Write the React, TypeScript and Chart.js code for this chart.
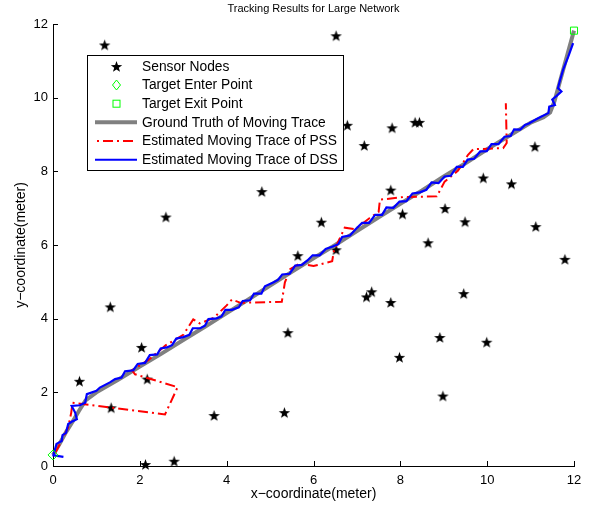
import React, { useEffect, useRef } from "react";
import { Chart, registerables } from "chart.js";
Chart.register(...registerables);

const chartTitle = "Tracking Results for Large Network";
const xAxisLabel = "x\u2212coordinate(meter)";
const yAxisLabel = "y\u2212coordinate(meter)";
const xTickValues = [0, 2, 4, 6, 8, 10, 12];
const yTickValues = [0, 2, 4, 6, 8, 10, 12];
const legendLabels = [
  "Sensor Nodes",
  "Target Enter Point",
  "Target Exit Point",
  "Ground Truth of Moving Trace",
  "Estimated Moving Trace of PSS",
  "Estimated Moving Trace of DSS",
];

const sensorX = [1.19, 6.52, 6.78, 7.81, 8.34, 8.44, 7.17, 11.10, 9.91, 10.56, 7.78, 8.05, 9.03, 9.49, 8.64, 6.52, 5.64, 6.18, 4.81, 2.60, 1.32, 11.12, 11.79, 7.22, 7.34, 7.78, 9.46, 8.91, 9.99, 7.98, 8.98, 5.41, 3.71, 5.33, 2.04, 0.61, 2.17, 1.34, 2.13, 2.79];
const sensorY = [11.43, 11.68, 9.25, 9.18, 9.33, 9.33, 8.70, 8.67, 7.82, 7.66, 7.49, 6.84, 6.99, 6.63, 6.06, 5.87, 5.71, 6.62, 7.45, 6.76, 4.32, 6.50, 5.61, 4.59, 4.73, 4.44, 4.68, 3.49, 3.36, 2.95, 1.90, 3.62, 1.37, 1.45, 3.22, 2.30, 2.36, 1.58, 0.04, 0.13];

const enterX = [0];
const enterY = [0.3];
const exitX = [12];
const exitY = [11.82];

const truthX = [0, 0.15, 0.3, 0.45, 0.6, 0.75, 1.0, 1.5, 2.0, 2.5, 3.0, 3.5, 4.0, 4.5, 5.0, 5.5, 6.0, 6.5, 7.0, 7.5, 8.0, 8.5, 9.0, 9.5, 10.0, 10.5, 11.0, 11.3, 11.45, 11.55, 11.62, 12.0];
const truthY = [0.3, 0.6, 0.92, 1.2, 1.5, 1.78, 2.0, 2.34, 2.7, 3.05, 3.42, 3.78, 4.15, 4.52, 4.9, 5.27, 5.64, 6.0, 6.38, 6.75, 7.12, 7.48, 7.86, 8.22, 8.6, 8.96, 9.32, 9.47, 9.6, 9.9, 10.2, 11.82];

const pssX = [0.05, 0.2, 0.35, 0.42, 0.45, 2.58, 2.87, 1.89, 1.82, 2.2, 2.6, 3.0, 3.23, 3.38, 3.7, 4.0, 4.12, 4.32, 5.27, 5.34, 5.46, 5.69, 6.0, 6.43, 6.47, 6.72, 6.96, 7.28, 7.5, 7.53, 8.06, 8.84, 9.02, 9.33, 9.56, 9.68, 10.37, 10.45, 10.43];
const pssY = [0.35, 0.69, 1.05, 1.45, 1.72, 1.4, 2.14, 2.49, 2.6, 2.88, 3.28, 3.56, 3.98, 3.87, 4.02, 4.36, 4.52, 4.43, 4.46, 4.98, 5.34, 5.5, 5.43, 5.56, 5.84, 6.47, 6.43, 6.72, 6.9, 7.23, 7.3, 7.32, 7.72, 8.02, 8.45, 8.6, 8.63, 8.77, 9.85];

const dssX = [0.24, 0.01, 0.08, 0.2, 0.22, 0.3, 0.35, 0.43, 0.55, 0.51, 0.43, 0.62, 0.74, 0.78, 1.0, 1.08, 1.31, 1.43, 1.58, 1.66, 1.85, 1.95, 2.12, 2.23, 2.4, 2.48, 2.62, 2.74, 2.84, 3.0, 3.14, 3.22, 3.39, 3.5, 3.58, 3.77, 3.88, 3.97, 4.12, 4.28, 4.37, 4.54, 4.63, 4.8, 4.88, 5.07, 5.18, 5.28, 5.45, 5.58, 5.73, 5.86, 5.98, 6.14, 6.28, 6.43, 6.57, 6.66, 6.84, 6.98, 7.12, 7.28, 7.42, 7.58, 7.68, 7.84, 7.98, 8.14, 8.28, 8.45, 8.6, 8.72, 8.88, 9.02, 9.16, 9.3, 9.44, 9.55, 9.7, 9.84, 9.99, 10.1, 10.26, 10.4, 10.54, 10.62, 10.76, 10.87, 10.96, 11.14, 11.25, 11.41, 11.43, 11.56, 11.5, 11.6, 11.71, 11.63, 11.67, 11.75, 11.87, 11.98];
const dssY = [0.25, 0.29, 0.6, 0.68, 0.84, 0.9, 1.14, 1.2, 1.27, 1.45, 1.63, 1.65, 1.72, 1.95, 2.04, 2.13, 2.27, 2.36, 2.4, 2.57, 2.6, 2.77, 2.8, 3.01, 3.03, 3.19, 3.22, 3.28, 3.46, 3.5, 3.56, 3.74, 3.74, 3.81, 3.99, 4.01, 4.06, 4.24, 4.24, 4.31, 4.48, 4.5, 4.68, 4.68, 4.88, 4.98, 5.05, 5.2, 5.22, 5.44, 5.46, 5.58, 5.72, 5.72, 5.89, 5.95, 6.02, 6.22, 6.26, 6.44, 6.6, 6.6, 6.82, 6.82, 7.02, 7.01, 7.18, 7.19, 7.4, 7.43, 7.5, 7.7, 7.68, 7.86, 7.88, 8.12, 8.12, 8.32, 8.34, 8.54, 8.55, 8.74, 8.74, 8.94, 8.96, 9.14, 9.13, 9.26, 9.3, 9.42, 9.49, 9.58, 9.76, 9.8, 9.95, 10.05, 10.17, 10.26, 10.44, 10.76, 11.12, 11.48];

const FONT = '"Liberation Sans", Arial, Helvetica, sans-serif';
const GREEN = "#00ff00";
const GRAY = "#808080";
const RED = "#ff0000";
const BLUE = "#0000ff";
const RED_DASH = [10, 4, 2, 4];

function toPoints(xs: number[], ys: number[]) {
  return xs.map((x, i) => ({ x, y: ys[i] }));
}

function makeStar(size: number, color: string): HTMLCanvasElement {
  const c = document.createElement("canvas");
  c.width = size;
  c.height = size;
  const g = c.getContext("2d")!;
  const cx = size / 2;
  const cy = size / 2 + 0.5;
  const R = size / 2 - 0.5;
  const r = R * 0.4;
  g.beginPath();
  for (let i = 0; i < 10; i++) {
    const a = -Math.PI / 2 + (i * Math.PI) / 5;
    const rad = i % 2 === 0 ? R : r;
    g.lineTo(cx + rad * Math.cos(a), cy + rad * Math.sin(a));
  }
  g.closePath();
  g.fillStyle = color;
  g.fill();
  return c;
}

export default function App() {
  const ref = useRef<HTMLCanvasElement | null>(null);

  useEffect(() => {
    if (!ref.current) return;
    const star = makeStar(13, "#000000");

    const decor = {
      id: "decor",
      afterDraw(chart: any) {
        const ctx = chart.ctx as CanvasRenderingContext2D;
        const xs = chart.scales.x;
        const ys = chart.scales.y;
        ctx.save();
        // inward tick marks
        ctx.strokeStyle = "#000";
        ctx.lineWidth = 1;
        xTickValues.forEach((v) => {
          const px = Math.round(xs.getPixelForValue(v)) + 0.5;
          ctx.beginPath();
          ctx.moveTo(px, ys.bottom);
          ctx.lineTo(px, ys.bottom - 5);
          ctx.stroke();
        });
        yTickValues.forEach((v) => {
          const py = Math.round(ys.getPixelForValue(v)) + 0.5;
          ctx.beginPath();
          ctx.moveTo(xs.left, py);
          ctx.lineTo(xs.left + 5, py);
          ctx.stroke();
        });
        // titles
        ctx.fillStyle = "#000";
        ctx.textAlign = "center";
        ctx.textBaseline = "middle";
        ctx.font = `11px ${FONT}`;
        ctx.fillText(chartTitle, (xs.left + xs.right) / 2, 9);
        ctx.font = `14px ${FONT}`;
        ctx.fillText(xAxisLabel, (xs.left + xs.right) / 2, 494);
        ctx.save();
        ctx.translate(21, (ys.top + ys.bottom) / 2);
        ctx.rotate(-Math.PI / 2);
        ctx.fillText(yAxisLabel, 0, 0);
        ctx.restore();

        // legend
        const bx = 87.5, by = 55.5, bw = 256, bh = 115;
        ctx.fillStyle = "#fff";
        ctx.fillRect(bx, by, bw, bh);
        ctx.strokeStyle = "#000";
        ctx.lineWidth = 1;
        ctx.strokeRect(bx, by, bw, bh);
        const rowY = [66.5, 85, 103.7, 122.3, 141, 159.7];
        const mx = 116.5;
        const lx0 = 95, lx1 = 137;
        // star
        ctx.drawImage(star, mx - star.width / 2, rowY[0] - star.height / 2);
        // diamond
        ctx.strokeStyle = GREEN;
        ctx.lineWidth = 1;
        ctx.beginPath();
        ctx.moveTo(mx, rowY[1] - 5);
        ctx.lineTo(mx + 4, rowY[1]);
        ctx.lineTo(mx, rowY[1] + 5);
        ctx.lineTo(mx - 4, rowY[1]);
        ctx.closePath();
        ctx.stroke();
        // square
        ctx.strokeRect(mx - 3.5, rowY[2] - 3.5, 7, 7);
        // gray line
        ctx.strokeStyle = GRAY;
        ctx.lineWidth = 4;
        ctx.beginPath();
        ctx.moveTo(lx0, rowY[3]);
        ctx.lineTo(lx1, rowY[3]);
        ctx.stroke();
        // red dash-dot
        ctx.strokeStyle = RED;
        ctx.lineWidth = 2;
        ctx.setLineDash(RED_DASH);
        ctx.lineDashOffset = 12;
        ctx.beginPath();
        ctx.moveTo(lx0, rowY[4]);
        ctx.lineTo(lx1, rowY[4]);
        ctx.stroke();
        ctx.setLineDash([]);
        // blue
        ctx.strokeStyle = BLUE;
        ctx.lineWidth = 2;
        ctx.beginPath();
        ctx.moveTo(lx0, rowY[5]);
        ctx.lineTo(lx1, rowY[5]);
        ctx.stroke();
        // text
        ctx.fillStyle = "#000";
        ctx.textAlign = "left";
        ctx.textBaseline = "middle";
        ctx.font = `13.8px ${FONT}`;
        legendLabels.forEach((t, i) => ctx.fillText(t, 142, rowY[i] + 0.5));
        ctx.restore();
      },
    };

    const chart = new Chart(ref.current, {
      type: "scatter",
      data: {
        datasets: [
          {
            label: legendLabels[1],
            data: toPoints(enterX, enterY),
            pointStyle: "rectRot",
            pointRadius: 5,
            borderColor: GREEN,
            backgroundColor: "rgba(0,0,0,0)",
            borderWidth: 1,
            order: 0,
            clip: false,
          } as any,
          {
            label: legendLabels[2],
            data: toPoints(exitX, exitY),
            pointStyle: "rect",
            pointRadius: 5,
            borderColor: GREEN,
            backgroundColor: "rgba(0,0,0,0)",
            borderWidth: 1,
            order: 0,
            clip: false,
          } as any,
          {
            label: legendLabels[5],
            data: toPoints(dssX, dssY),
            showLine: true,
            borderColor: BLUE,
            borderWidth: 2.2,
            pointRadius: 0,
            fill: false,
            order: 1,
            clip: false,
          } as any,
          {
            label: legendLabels[4],
            data: toPoints(pssX, pssY),
            showLine: true,
            borderColor: RED,
            borderWidth: 2,
            borderDash: RED_DASH,
            pointRadius: 0,
            fill: false,
            order: 2,
            clip: false,
          } as any,
          {
            label: legendLabels[3],
            data: toPoints(truthX, truthY),
            showLine: true,
            borderColor: GRAY,
            borderWidth: 4,
            pointRadius: 0,
            fill: false,
            order: 3,
            clip: false,
          } as any,
          {
            label: legendLabels[0],
            data: toPoints(sensorX, sensorY),
            pointStyle: star,
            pointRadius: 6,
            showLine: false,
            order: 4,
            clip: false,
          } as any,
        ],
      },
      options: {
        responsive: false,
        animation: false,
        events: [],
        layout: { padding: { top: 24, right: 21, left: 0, bottom: 0 } },
        plugins: {
          legend: { display: false },
          title: { display: false },
          tooltip: { enabled: false },
        },
        scales: {
          x: {
            type: "linear",
            min: 0,
            max: 12,
            grid: { display: false, drawTicks: false },
            border: { display: true, color: "#000", width: 1 },
            ticks: {
              stepSize: 2,
              color: "#000",
              padding: 7,
              maxRotation: 0,
              font: { family: FONT, size: 13 },
            },
            afterFit: (s: any) => {
              s.height = 42;
            },
          },
          y: {
            type: "linear",
            min: 0,
            max: 12,
            grid: { display: false, drawTicks: false },
            border: { display: true, color: "#000", width: 1 },
            ticks: {
              stepSize: 2,
              color: "#000",
              padding: 5,
              font: { family: FONT, size: 13 },
            },
            afterFit: (s: any) => {
              s.width = 53;
            },
          },
        },
      } as any,
      plugins: [decor],
    });

    return () => chart.destroy();
  }, []);

  return (
    <div style={{ position: "absolute", left: 0, top: 0, width: 595, height: 508, background: "#fff" }}>
      <canvas ref={ref} width={595} height={508} style={{ display: "block" }} />
    </div>
  );
}
